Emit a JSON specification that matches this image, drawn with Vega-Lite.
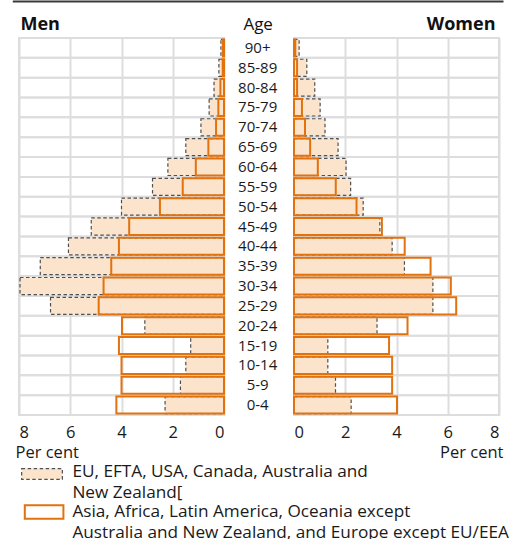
{
  "$schema": "https://vega.github.io/schema/vega-lite/v6.json",
  "background": "white",
  "autosize": {"type": "none"},
  "padding": {"left": 19, "top": 38, "right": 10, "bottom": 124},
  "width": 480,
  "height": 377,
  "config": {
    "font": "Open Sans",
    "view": {"stroke": null},
    "axis": {"gridColor": "#dddddd", "gridWidth": 2, "ticks": false, "domain": false, "labelFont": "Open Sans", "labelFontSize": 16.5, "labelColor": "#1a1a1a", "titleFont": "Open Sans", "titleFontSize": 16.5, "titleFontWeight": "normal", "titleColor": "#1a1a1a"},
    "legend": {"orient": "none", "legendX": 1, "legendY": 423, "direction": "vertical", "padding": 0, "labelFont": "Open Sans", "labelFontSize": 17.2, "labelColor": "#1a1a1a", "labelLimit": 0, "symbolOffset": 11, "labelOffset": 19.4, "rowPadding": 0, "symbolType": "M-2,-0.5H2V0.5H-2Z", "symbolSize": 400}
  },
  "datasets": {
    "pop": [
      {"sex": "Men", "age": "90+", "group": "EU", "value": 0.12},
      {"sex": "Men", "age": "85-89", "group": "EU", "value": 0.2},
      {"sex": "Men", "age": "80-84", "group": "EU", "value": 0.39},
      {"sex": "Men", "age": "75-79", "group": "EU", "value": 0.58},
      {"sex": "Men", "age": "70-74", "group": "EU", "value": 0.9},
      {"sex": "Men", "age": "65-69", "group": "EU", "value": 1.49},
      {"sex": "Men", "age": "60-64", "group": "EU", "value": 2.19},
      {"sex": "Men", "age": "55-59", "group": "EU", "value": 2.79},
      {"sex": "Men", "age": "50-54", "group": "EU", "value": 4.0},
      {"sex": "Men", "age": "45-49", "group": "EU", "value": 5.18},
      {"sex": "Men", "age": "40-44", "group": "EU", "value": 6.07},
      {"sex": "Men", "age": "35-39", "group": "EU", "value": 7.17},
      {"sex": "Men", "age": "30-34", "group": "EU", "value": 7.96},
      {"sex": "Men", "age": "25-29", "group": "EU", "value": 6.77},
      {"sex": "Men", "age": "20-24", "group": "EU", "value": 3.09},
      {"sex": "Men", "age": "15-19", "group": "EU", "value": 1.3},
      {"sex": "Men", "age": "10-14", "group": "EU", "value": 1.49},
      {"sex": "Men", "age": "5-9", "group": "EU", "value": 1.7},
      {"sex": "Men", "age": "0-4", "group": "EU", "value": 2.3},
      {"sex": "Women", "age": "90+", "group": "EU", "value": 0.2},
      {"sex": "Women", "age": "85-89", "group": "EU", "value": 0.5},
      {"sex": "Women", "age": "80-84", "group": "EU", "value": 0.81},
      {"sex": "Women", "age": "75-79", "group": "EU", "value": 1.02},
      {"sex": "Women", "age": "70-74", "group": "EU", "value": 1.21},
      {"sex": "Women", "age": "65-69", "group": "EU", "value": 1.72},
      {"sex": "Women", "age": "60-64", "group": "EU", "value": 2.03},
      {"sex": "Women", "age": "55-59", "group": "EU", "value": 2.21},
      {"sex": "Women", "age": "50-54", "group": "EU", "value": 2.7},
      {"sex": "Women", "age": "45-49", "group": "EU", "value": 3.35},
      {"sex": "Women", "age": "40-44", "group": "EU", "value": 3.83},
      {"sex": "Women", "age": "35-39", "group": "EU", "value": 4.31},
      {"sex": "Women", "age": "30-34", "group": "EU", "value": 5.42},
      {"sex": "Women", "age": "25-29", "group": "EU", "value": 5.42},
      {"sex": "Women", "age": "20-24", "group": "EU", "value": 3.24},
      {"sex": "Women", "age": "15-19", "group": "EU", "value": 1.32},
      {"sex": "Women", "age": "10-14", "group": "EU", "value": 1.32},
      {"sex": "Women", "age": "5-9", "group": "EU", "value": 1.62},
      {"sex": "Women", "age": "0-4", "group": "EU", "value": 2.23},
      {"sex": "Men", "age": "90+", "group": "Asia", "value": 0.04},
      {"sex": "Men", "age": "85-89", "group": "Asia", "value": 0.05},
      {"sex": "Men", "age": "80-84", "group": "Asia", "value": 0.14},
      {"sex": "Men", "age": "75-79", "group": "Asia", "value": 0.22},
      {"sex": "Men", "age": "70-74", "group": "Asia", "value": 0.31},
      {"sex": "Men", "age": "65-69", "group": "Asia", "value": 0.61},
      {"sex": "Men", "age": "60-64", "group": "Asia", "value": 1.1},
      {"sex": "Men", "age": "55-59", "group": "Asia", "value": 1.61},
      {"sex": "Men", "age": "50-54", "group": "Asia", "value": 2.5},
      {"sex": "Men", "age": "45-49", "group": "Asia", "value": 3.7},
      {"sex": "Men", "age": "40-44", "group": "Asia", "value": 4.1},
      {"sex": "Men", "age": "35-39", "group": "Asia", "value": 4.4},
      {"sex": "Men", "age": "30-34", "group": "Asia", "value": 4.7},
      {"sex": "Men", "age": "25-29", "group": "Asia", "value": 4.89},
      {"sex": "Men", "age": "20-24", "group": "Asia", "value": 3.98},
      {"sex": "Men", "age": "15-19", "group": "Asia", "value": 4.1},
      {"sex": "Men", "age": "10-14", "group": "Asia", "value": 4.0},
      {"sex": "Men", "age": "5-9", "group": "Asia", "value": 4.0},
      {"sex": "Men", "age": "0-4", "group": "Asia", "value": 4.2},
      {"sex": "Women", "age": "90+", "group": "Asia", "value": 0.05},
      {"sex": "Women", "age": "85-89", "group": "Asia", "value": 0.12},
      {"sex": "Women", "age": "80-84", "group": "Asia", "value": 0.12},
      {"sex": "Women", "age": "75-79", "group": "Asia", "value": 0.31},
      {"sex": "Women", "age": "70-74", "group": "Asia", "value": 0.43},
      {"sex": "Women", "age": "65-69", "group": "Asia", "value": 0.63},
      {"sex": "Women", "age": "60-64", "group": "Asia", "value": 0.93},
      {"sex": "Women", "age": "55-59", "group": "Asia", "value": 1.63},
      {"sex": "Women", "age": "50-54", "group": "Asia", "value": 2.44},
      {"sex": "Women", "age": "45-49", "group": "Asia", "value": 3.43},
      {"sex": "Women", "age": "40-44", "group": "Asia", "value": 4.32},
      {"sex": "Women", "age": "35-39", "group": "Asia", "value": 5.33},
      {"sex": "Women", "age": "30-34", "group": "Asia", "value": 6.12},
      {"sex": "Women", "age": "25-29", "group": "Asia", "value": 6.33},
      {"sex": "Women", "age": "20-24", "group": "Asia", "value": 4.43},
      {"sex": "Women", "age": "15-19", "group": "Asia", "value": 3.71},
      {"sex": "Women", "age": "10-14", "group": "Asia", "value": 3.83},
      {"sex": "Women", "age": "5-9", "group": "Asia", "value": 3.83},
      {"sex": "Women", "age": "0-4", "group": "Asia", "value": 4.02}
    ],
    "ages": [
      {"age": "90+"}, {"age": "85-89"}, {"age": "80-84"}, {"age": "75-79"}, {"age": "70-74"},
      {"age": "65-69"}, {"age": "60-64"}, {"age": "55-59"}, {"age": "50-54"}, {"age": "45-49"},
      {"age": "40-44"}, {"age": "35-39"}, {"age": "30-34"}, {"age": "25-29"}, {"age": "20-24"},
      {"age": "15-19"}, {"age": "10-14"}, {"age": "5-9"}, {"age": "0-4"}
    ]
  },
  "resolve": {"scale": {"x": "independent"}, "axis": {"x": "independent", "y": "independent"}},
  "layer": [
    {
      "layer": [
        {
          "data": {"name": "ages"},
          "mark": {"type": "bar", "filled": false, "stroke": "#dddddd", "strokeWidth": 2},
          "encoding": {
            "y": {"field": "age", "type": "nominal", "sort": ["90+", "85-89", "80-84", "75-79", "70-74", "65-69", "60-64", "55-59", "50-54", "45-49", "40-44", "35-39", "30-34", "25-29", "20-24", "15-19", "10-14", "5-9", "0-4"], "scale": {"paddingInner": 0, "paddingOuter": 0}, "axis": {"orient": "left", "labels": false, "grid": false, "minExtent": 0, "maxExtent": 0, "title": "Men", "titleAngle": 0, "titleX": 1, "titleY": -8.7, "titleAlign": "left", "titleBaseline": "alphabetic", "titleFontSize": 18, "titleFontWeight": "bold", "titleColor": "#111111"}},
            "x": {"datum": 0, "type": "quantitative", "scale": {"domain": [0, 8], "range": [205, 0], "nice": false, "zero": false}, "axis": {"orient": "bottom", "values": [0, 2, 4, 6, 8], "grid": true, "title": "Per cent", "titleX": -4, "titleAlign": "left", "labelPadding": 9, "titlePadding": 4}},
            "x2": {"datum": 8}
          }
        },
        {
          "data": {"name": "pop"},
          "transform": [{"filter": "datum.sex == 'Men'"}],
          "mark": {"type": "bar", "height": {"band": 0.86}},
          "encoding": {
            "y": {"field": "age", "type": "nominal", "sort": ["90+", "85-89", "80-84", "75-79", "70-74", "65-69", "60-64", "55-59", "50-54", "45-49", "40-44", "35-39", "30-34", "25-29", "20-24", "15-19", "10-14", "5-9", "0-4"], "scale": {"paddingInner": 0, "paddingOuter": 0}, "axis": {"orient": "left", "labels": false, "grid": false, "minExtent": 0, "maxExtent": 0, "title": "Men", "titleAngle": 0, "titleX": 1, "titleY": -8.7, "titleAlign": "left", "titleBaseline": "alphabetic", "titleFontSize": 18, "titleFontWeight": "bold", "titleColor": "#111111"}},
            "x": {"field": "value", "type": "quantitative", "stack": null, "scale": {"domain": [0, 8], "range": [205, 0], "nice": false, "zero": false}, "axis": {"orient": "bottom", "values": [0, 2, 4, 6, 8], "grid": true, "title": "Per cent", "titleX": -4, "titleAlign": "left", "labelPadding": 9, "titlePadding": 4}},
            "fill": {"field": "group", "type": "nominal", "scale": {"domain": ["EU", "Asia"], "range": ["#fbe3cc", "transparent"]}, "legend": {"title": null, "labelExpr": "datum.value == 'EU' ? ['EU, EFTA, USA, Canada, Australia and', 'New Zealand['] : ['Asia, Africa, Latin America, Oceania except', 'Australia and New Zealand, and Europe except EU/EEA']", "encode": {"symbols": {"update": {"shape": {"signal": "datum.value == 'EU' ? 'M-2.035,-0.335H2.035V0.735H-2.035Z' : 'M-1.72,-0.68H2.14V0.68H-1.72Z'"}}}, "labels": {"update": {"lineHeight": {"value": 20.5}}}}}},
            "stroke": {"field": "group", "type": "nominal", "scale": {"domain": ["EU", "Asia"], "range": ["#505050", "#e2720e"]}},
            "strokeDash": {"field": "group", "type": "nominal", "scale": {"domain": ["EU", "Asia"], "range": [[3.5, 2.5], [1, 0]]}},
            "strokeWidth": {"field": "group", "type": "nominal", "scale": {"domain": ["EU", "Asia"], "range": [1.2, 2]}}
          }
        }
      ]
    },
    {
      "layer": [
        {
          "data": {"name": "ages"},
          "mark": {"type": "bar", "filled": false, "stroke": "#dddddd", "strokeWidth": 2},
          "encoding": {
            "y": {"field": "age", "type": "nominal", "sort": ["90+", "85-89", "80-84", "75-79", "70-74", "65-69", "60-64", "55-59", "50-54", "45-49", "40-44", "35-39", "30-34", "25-29", "20-24", "15-19", "10-14", "5-9", "0-4"], "scale": {"paddingInner": 0, "paddingOuter": 0}, "axis": {"orient": "right", "labels": false, "grid": false, "minExtent": 0, "maxExtent": 0, "title": "Women", "titleAngle": 0, "titleX": -4, "titleY": -8.7, "titleAlign": "right", "titleBaseline": "alphabetic", "titleFontSize": 18, "titleFontWeight": "bold", "titleColor": "#111111"}},
            "x": {"datum": 0, "type": "quantitative", "scale": {"domain": [0, 8], "range": [275, 480], "nice": false, "zero": false}, "axis": {"orient": "bottom", "values": [0, 2, 4, 6, 8], "grid": true, "title": "Per cent", "titleX": 484, "titleAlign": "right", "labelPadding": 9, "titlePadding": 4}},
            "x2": {"datum": 8}
          }
        },
        {
          "data": {"name": "pop"},
          "transform": [{"filter": "datum.sex == 'Women'"}],
          "mark": {"type": "bar", "height": {"band": 0.86}},
          "encoding": {
            "y": {"field": "age", "type": "nominal", "sort": ["90+", "85-89", "80-84", "75-79", "70-74", "65-69", "60-64", "55-59", "50-54", "45-49", "40-44", "35-39", "30-34", "25-29", "20-24", "15-19", "10-14", "5-9", "0-4"], "scale": {"paddingInner": 0, "paddingOuter": 0}, "axis": {"orient": "right", "labels": false, "grid": false, "minExtent": 0, "maxExtent": 0, "title": "Women", "titleAngle": 0, "titleX": -4, "titleY": -8.7, "titleAlign": "right", "titleBaseline": "alphabetic", "titleFontSize": 18, "titleFontWeight": "bold", "titleColor": "#111111"}},
            "x": {"field": "value", "type": "quantitative", "stack": null, "scale": {"domain": [0, 8], "range": [275, 480], "nice": false, "zero": false}, "axis": {"orient": "bottom", "values": [0, 2, 4, 6, 8], "grid": true, "title": "Per cent", "titleX": 484, "titleAlign": "right", "labelPadding": 9, "titlePadding": 4}},
            "fill": {"field": "group", "type": "nominal", "scale": {"domain": ["EU", "Asia"], "range": ["#fbe3cc", "transparent"]}},
            "stroke": {"field": "group", "type": "nominal", "scale": {"domain": ["EU", "Asia"], "range": ["#505050", "#e2720e"]}},
            "strokeDash": {"field": "group", "type": "nominal", "scale": {"domain": ["EU", "Asia"], "range": [[3.5, 2.5], [1, 0]]}},
            "strokeWidth": {"field": "group", "type": "nominal", "scale": {"domain": ["EU", "Asia"], "range": [1.2, 2]}}
          }
        }
      ]
    },
    {
      "data": {"name": "ages"},
      "mark": {"type": "text", "fontSize": 15, "color": "#1a1a1a"},
      "encoding": {
        "y": {"field": "age", "type": "nominal", "sort": ["90+", "85-89", "80-84", "75-79", "70-74", "65-69", "60-64", "55-59", "50-54", "45-49", "40-44", "35-39", "30-34", "25-29", "20-24", "15-19", "10-14", "5-9", "0-4"], "scale": {"paddingInner": 0, "paddingOuter": 0}, "axis": null},
        "x": {"datum": 0.5, "type": "quantitative", "scale": {"domain": [0, 1], "range": [-6.7, 484], "nice": false, "zero": false}, "axis": {"orient": "top", "offset": 37, "domain": true, "domainColor": "#3a3a3a", "domainWidth": 2, "domainCap": "butt", "labels": false, "grid": false, "ticks": false, "minExtent": 0, "maxExtent": 0, "title": "Age", "titleX": 238.65, "titleY": 28.3, "titleAlign": "center", "titleBaseline": "alphabetic", "titleFontSize": 17, "titleColor": "#111111"}},
        "text": {"field": "age", "type": "nominal"}
      }
    }
  ]
}
